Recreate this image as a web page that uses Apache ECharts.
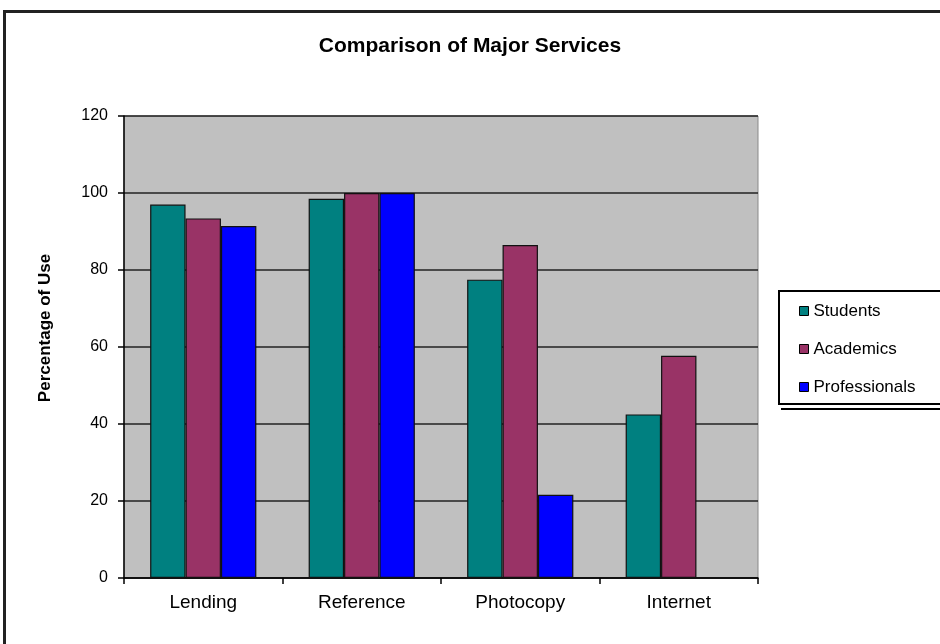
<!DOCTYPE html>
<html>
<head>
<meta charset="utf-8">
<script src="https://cdn.jsdelivr.net/npm/echarts@6/dist/echarts.min.js"></script>
<style>
html,body{margin:0;padding:0;background:#fff;}
#chart{width:940px;height:644px;}
</style>
</head>
<body>
<div id="chart"></div>
<script>
const categories = ['Lending', 'Reference', 'Photocopy', 'Internet'];
const students = [97, 98.5, 77.5, 42.5];
const academics = [93.4, 100, 86.5, 57.7];
const professionals = [91.4, 100, 21.6, null];
const yTicks = { min: 0, max: 120, interval: 20 };
const seriesNames = ['Students', 'Academics', 'Professionals'];
const colors = ['#008080', '#993366', '#0000FF'];

const FONT = 'Liberation Sans, Arial, sans-serif';
const chart = echarts.init(document.getElementById('chart'));
const values = [students, academics, professionals];

chart.setOption({
  backgroundColor: '#ffffff',
  animation: false,
  title: {
    text: 'Comparison of Major Services',
    left: 'center',
    top: 31,
    padding: [5, 5, 5, 15],
    textStyle: { fontFamily: FONT, fontSize: 21, fontWeight: 'bold', color: '#000' }
  },
  graphic: [{
    type: 'rect',
    shape: { x: 4.5, y: 11.5, width: 1000, height: 700 },
    style: { fill: 'none', stroke: '#222', lineWidth: 3 },
    silent: true
  }, {
    type: 'line',
    shape: { x1: 781, y1: 409, x2: 940, y2: 409 },
    style: { stroke: '#000', lineWidth: 2 },
    silent: true
  }],
  legend: {
    orient: 'vertical',
    left: 779,
    top: 291,
    padding: [11, 60, 8, 20],
    itemWidth: 9,
    itemHeight: 9,
    itemGap: 20,
    icon: 'rect',
    backgroundColor: '#fff',
    borderColor: '#000',
    borderWidth: 2,
    itemStyle: { borderColor: '#000', borderWidth: 1 },
    textStyle: { fontFamily: FONT, fontSize: 17, color: '#000', lineHeight: 18 },
    data: seriesNames
  },
  grid: {
    left: 124, right: 182, top: 116, bottom: 66,
    show: true,
    backgroundColor: '#C0C0C0',
    borderColor: '#8a8a8a',
    borderWidth: 1
  },
  xAxis: {
    type: 'category',
    data: categories,
    axisLine: { lineStyle: { color: '#000', width: 1.5 } },
    axisTick: { show: true, length: 6, lineStyle: { color: '#000', width: 1.5 } },
    axisLabel: { fontFamily: FONT, fontSize: 19, color: '#000', margin: 15 }
  },
  yAxis: {
    type: 'value',
    min: yTicks.min, max: yTicks.max, interval: yTicks.interval,
    name: 'Percentage of Use',
    nameLocation: 'middle',
    nameGap: 70,
    nameTextStyle: { fontFamily: FONT, fontSize: 17, fontWeight: 'bold', color: '#000', padding: [0, 0, 0, 38] },
    axisLine: { show: true, lineStyle: { color: '#000', width: 1.5 } },
    axisTick: { show: true, length: 6, lineStyle: { color: '#000', width: 1.5 } },
    axisLabel: { fontFamily: FONT, fontSize: 16, color: '#000', margin: 16 },
    splitLine: { show: true, lineStyle: { color: '#222', width: 1.5 } }
  },
  series: seriesNames.map((n, i) => ({
    name: n,
    type: 'bar',
    data: values[i],
    barGap: '0%',
    barCategoryGap: '33%',
    itemStyle: { color: colors[i], borderColor: '#111', borderWidth: 1.2 }
  }))
});
</script>
</body>
</html>
